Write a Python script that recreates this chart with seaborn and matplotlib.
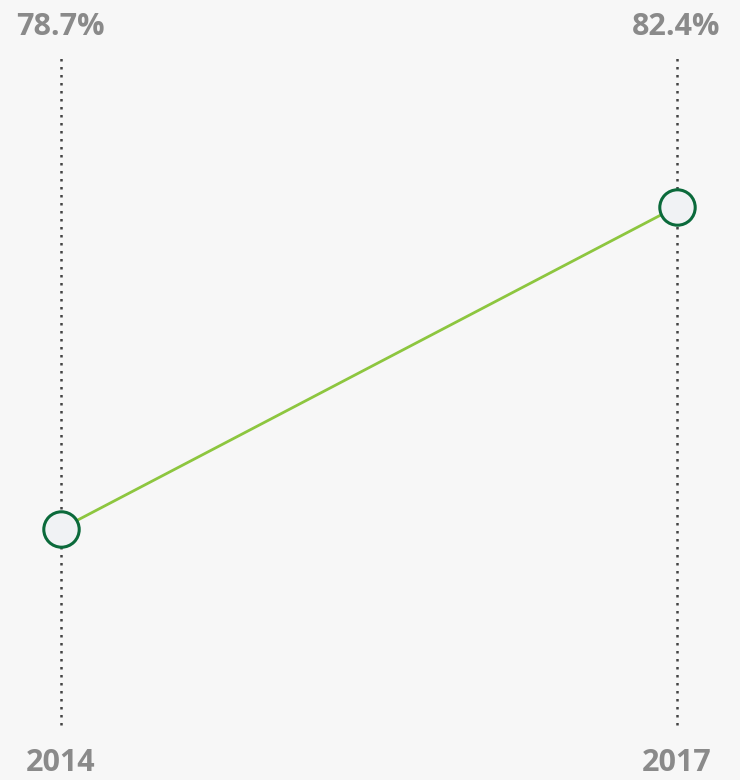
import pandas as pd
import matplotlib
matplotlib.use("Agg")
import matplotlib.pyplot as plt
import seaborn as sns

years = ["2014", "2017"]
values = [78.7, 82.4]
value_labels = ["78.7%", "82.4%"]

df = pd.DataFrame({"pos": [0, 1], "year": years, "value": values})

sns.set_style("white")
plt.rcParams["font.family"] = ["Open Sans", "DejaVu Sans"]

bg = "#f7f7f7"
fig = plt.figure(figsize=(7.4, 7.8), dpi=100, facecolor=bg)
ax = fig.add_axes([60.5 / 740, 55 / 780, 616 / 740, 668 / 780], facecolor=bg)

# dotted guides for each year
for p in df["pos"]:
    ax.axvline(p, color="#444444", linestyle=(0, (1, 2.2)), linewidth=1.8,
               zorder=1, clip_on=False)

sns.lineplot(data=df, x="pos", y="value", color="#8dc63f", linewidth=2, ax=ax, zorder=2)
sns.scatterplot(data=df, x="pos", y="value", s=650, color="#f0f2f4",
                edgecolor="#0b6a3b", linewidth=2.2, ax=ax, zorder=3, clip_on=False)

ax.set_xlim(0, 1)
ax.set_ylim(76.45, 84.12)
ax.axis("off")

# labels above and below
for p, lab, yr in zip(df["pos"], value_labels, df["year"]):
    ax.text(p, 1.0 + 22 / 668, lab, transform=ax.get_xaxis_transform(),
            ha="center", va="baseline", fontsize=22, fontweight="bold",
            color="#8a8a8a", clip_on=False)
    ax.text(p, -53 / 668, yr, transform=ax.get_xaxis_transform(),
            ha="center", va="bottom", fontsize=22, fontweight="bold",
            color="#8a8a8a", clip_on=False)

fig.savefig("out.png", dpi=100, facecolor=bg)
